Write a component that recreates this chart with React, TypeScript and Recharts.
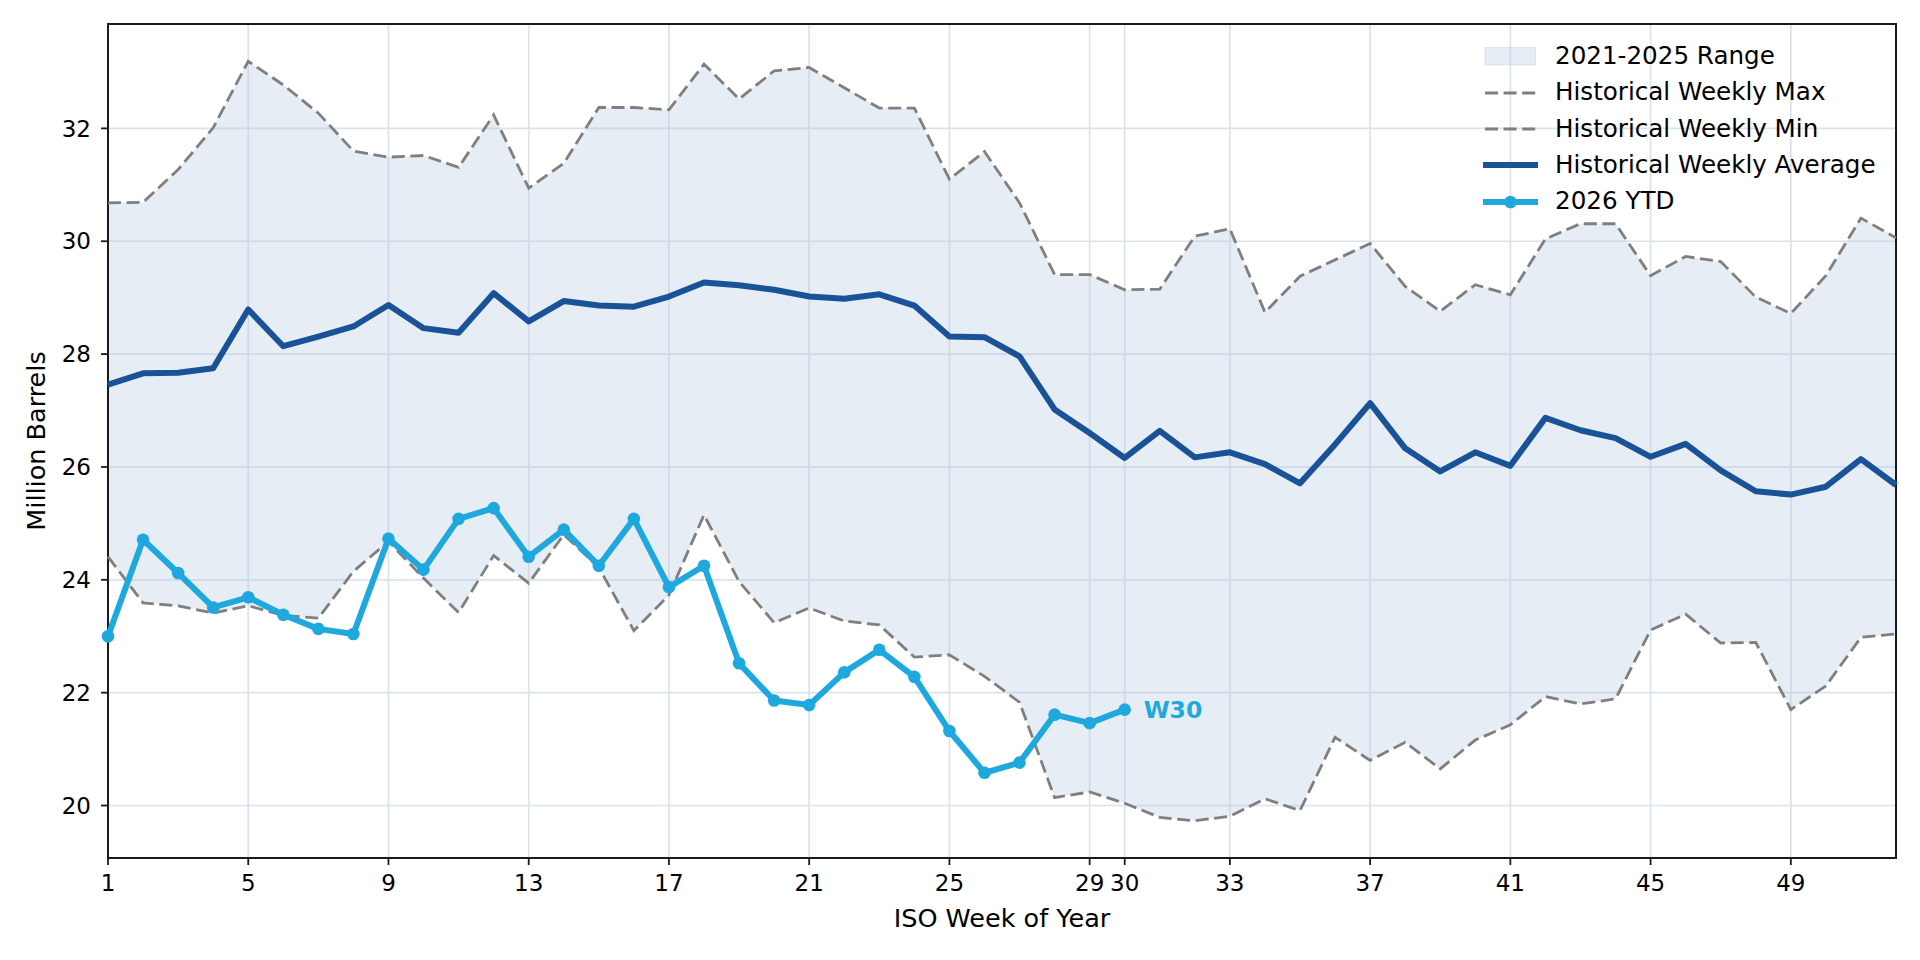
import {
  Area,
  CartesianGrid,
  ComposedChart,
  LabelList,
  Legend,
  Line,
  ReferenceArea,
  XAxis,
  YAxis,
} from "recharts";

// ISO weeks and weekly storage levels, million barrels
const weeks = [
  1, 2, 3, 4, 5, 6, 7, 8, 9, 10, 11, 12, 13, 14, 15, 16, 17, 18, 19, 20, 21, 22, 23, 24, 25, 26,
  27, 28, 29, 30, 31, 32, 33, 34, 35, 36, 37, 38, 39, 40, 41, 42, 43, 44, 45, 46, 47, 48, 49, 50, 51, 52,
];

const histMax = [
  30.68, 30.69, 31.27, 32.01, 33.19, 32.77, 32.27, 31.6, 31.49, 31.52, 31.31, 32.24, 30.94, 31.38,
  32.37, 32.37, 32.33, 33.14, 32.52, 33.02, 33.08, 32.72, 32.36, 32.36, 31.1, 31.59, 30.68, 29.41,
  29.41, 29.14, 29.15, 30.09, 30.22, 28.74, 29.38, 29.67, 29.96, 29.2, 28.76, 29.23, 29.05, 30.04,
  30.31, 30.31, 29.39, 29.73, 29.64, 29.01, 28.72, 29.39, 30.41, 30.06,
];

const histMin = [
  24.41, 23.59, 23.54, 23.41, 23.54, 23.37, 23.32, 24.15, 24.68, 24.03, 23.42, 24.43, 23.94, 24.8,
  24.22, 23.1, 23.73, 25.15, 23.97, 23.24, 23.5, 23.27, 23.2, 22.63, 22.67, 22.29, 21.83, 20.14,
  20.24, 20.04, 19.79, 19.73, 19.81, 20.12, 19.91, 21.21, 20.8, 21.12, 20.65, 21.16, 21.43, 21.93,
  21.8, 21.89, 23.11, 23.39, 22.88, 22.89, 21.7, 22.12, 22.98, 23.04,
];

const histAvg = [
  27.46, 27.66, 27.67, 27.75, 28.79, 28.14, 28.31, 28.49, 28.87, 28.46, 28.38, 29.08, 28.58, 28.94,
  28.86, 28.84, 29.02, 29.27, 29.22, 29.14, 29.02, 28.98, 29.06, 28.86, 28.31, 28.3, 27.96, 27.02,
  26.6, 26.16, 26.64, 26.17, 26.26, 26.05, 25.71, 26.4, 27.13, 26.33, 25.92, 26.26, 26.02, 26.87,
  26.65, 26.51, 26.18, 26.41, 25.94, 25.57, 25.51, 25.65, 26.14, 25.68,
];

const ytd2026 = [
  23.0, 24.71, 24.12, 23.51, 23.69, 23.38, 23.13, 23.04, 24.73, 24.18, 25.08, 25.27, 24.41, 24.89,
  24.25, 25.08, 23.87, 24.25, 22.52, 21.86, 21.78, 22.36, 22.76, 22.28, 21.32, 20.58, 20.76, 21.61,
  21.46, 21.7,
];

const weekTicks = [1, 5, 9, 13, 17, 21, 25, 29, 30, 33, 37, 41, 45, 49];
const barrelTicks = [20, 22, 24, 26, 28, 30, 32];
const weekDomain = [1, 52];
const barrelDomain = [19.07, 33.85];

const FONT = "'DejaVu Sans', sans-serif";
const RANGE_FILL = "#b0c4de";
const RANGE_OPACITY = 0.3;
const AVG_COLOR = "#1a5298";
const YTD_COLOR = "#1fa8de";
const BAND_COLOR = "#7f7f7f";
const DASH = "13 5.6";
const BAND_WIDTH = 2.8;
const MAIN_WIDTH = 6;

const chartData = weeks.map((week, i) => ({
  week,
  range: [histMin[i], histMax[i]],
  max: histMax[i],
  min: histMin[i],
  avg: histAvg[i],
  ytd: i < ytd2026.length ? ytd2026[i] : null,
}));

const legendItems = [
  { key: "range", label: "2021-2025 Range" },
  { key: "max", label: "Historical Weekly Max" },
  { key: "min", label: "Historical Weekly Min" },
  { key: "avg", label: "Historical Weekly Average" },
  { key: "ytd", label: "2026 YTD" },
];

function LegendIcon({ kind }: { kind: string }) {
  if (kind === "range") {
    return (
      <svg width={72} height={36}>
        <rect x={2} y={9.5} width={50.5} height={17.5} fill={RANGE_FILL} fillOpacity={RANGE_OPACITY} stroke={RANGE_FILL} strokeOpacity={0.35} />
      </svg>
    );
  }
  if (kind === "max" || kind === "min") {
    return (
      <svg width={72} height={36}>
        <line x1={2} x2={55} y1={18} y2={18} stroke={BAND_COLOR} strokeWidth={BAND_WIDTH} strokeDasharray={DASH} />
      </svg>
    );
  }
  const color = kind === "avg" ? AVG_COLOR : YTD_COLOR;
  return (
    <svg width={72} height={36}>
      <line x1={0} x2={55} y1={18} y2={18} stroke={color} strokeWidth={MAIN_WIDTH} />
      {kind === "ytd" && <circle cx={27.5} cy={18} r={6.3} fill={color} />}
    </svg>
  );
}

function ChartLegend() {
  return (
    <div style={{ fontFamily: FONT, fontSize: 24.6, color: "#000", lineHeight: 1 }}>
      {legendItems.map((item) => (
        <div key={item.key} style={{ display: "flex", alignItems: "center", height: 36.4 }}>
          <LegendIcon kind={item.key} />
          <span style={{ whiteSpace: "nowrap" }}>{item.label}</span>
        </div>
      ))}
    </div>
  );
}

function LastWeekLabel(props: any) {
  const { x, y, index } = props;
  if (index !== ytd2026.length - 1 || x == null || y == null) return null;
  return (
    <text x={x + 19} y={y} dy="0.36em" fill={YTD_COLOR} fontFamily={FONT} fontSize={23.5} fontWeight="bold">
      {`W${weeks[index]}`}
    </text>
  );
}

const tickStyle = { fontFamily: FONT, fontSize: 23, fill: "#000" };

export default function App() {
  return (
    <div style={{ position: "absolute", left: 0, top: 0, width: 1920, height: 960, background: "#fff" }}>
      <ComposedChart width={1920} height={960} data={chartData} margin={{ top: 24, right: 24, bottom: 0, left: 0 }}>
        <CartesianGrid stroke="#dbe2ee" strokeWidth={1.7} />
        <XAxis
          dataKey="week"
          type="number"
          domain={weekDomain}
          ticks={weekTicks}
          interval={0}
          height={102}
          tick={tickStyle}
          tickSize={7}
          tickMargin={10}
          tickLine={{ stroke: "#1a1a1a", strokeWidth: 1.8 }}
          axisLine={false}
          label={{ value: "ISO Week of Year", position: "insideBottom", offset: 33, style: { fontFamily: FONT, fontSize: 25.5, fill: "#000" } }}
        />
        <YAxis
          type="number"
          domain={barrelDomain}
          ticks={barrelTicks}
          allowDataOverflow
          width={108}
          tick={tickStyle}
          tickSize={7}
          tickMargin={10}
          tickLine={{ stroke: "#1a1a1a", strokeWidth: 1.8 }}
          axisLine={false}
          label={{ value: "Million Barrels", angle: -90, position: "center", dx: -17.6, style: { fontFamily: FONT, fontSize: 25.5, fill: "#000" } }}
        />
        <Area
          dataKey="range"
          name="2021-2025 Range"
          stroke="none"
          fill={RANGE_FILL}
          fillOpacity={RANGE_OPACITY}
          isAnimationActive={false}
          activeDot={false}
        />
        <Line dataKey="max" name="Historical Weekly Max" stroke={BAND_COLOR} strokeWidth={BAND_WIDTH} strokeDasharray={DASH} dot={false} activeDot={false} isAnimationActive={false} />
        <Line dataKey="min" name="Historical Weekly Min" stroke={BAND_COLOR} strokeWidth={BAND_WIDTH} strokeDasharray={DASH} dot={false} activeDot={false} isAnimationActive={false} />
        <Line dataKey="avg" name="Historical Weekly Average" stroke={AVG_COLOR} strokeWidth={MAIN_WIDTH} strokeLinejoin="round" dot={false} activeDot={false} isAnimationActive={false} />
        <Line
          dataKey="ytd"
          name="2026 YTD"
          stroke={YTD_COLOR}
          strokeWidth={MAIN_WIDTH}
          strokeLinejoin="round"
          dot={{ r: 6.3, fill: YTD_COLOR, stroke: "none" }}
          activeDot={false}
          isAnimationActive={false}
        >
          <LabelList dataKey="ytd" content={LastWeekLabel} />
        </Line>
        <ReferenceArea
          x1={weekDomain[0]}
          x2={weekDomain[1]}
          y1={barrelDomain[0]}
          y2={barrelDomain[1]}
          fill="none"
          fillOpacity={0}
          stroke="#1a1a1a"
          strokeWidth={2}
          ifOverflow="visible"
        />
        <Legend
          layout="vertical"
          align="center"
          verticalAlign="middle"
          content={() => <ChartLegend />}
          wrapperStyle={{ left: 1483, top: 38, width: "auto", height: "auto" }}
        />
      </ComposedChart>
    </div>
  );
}
